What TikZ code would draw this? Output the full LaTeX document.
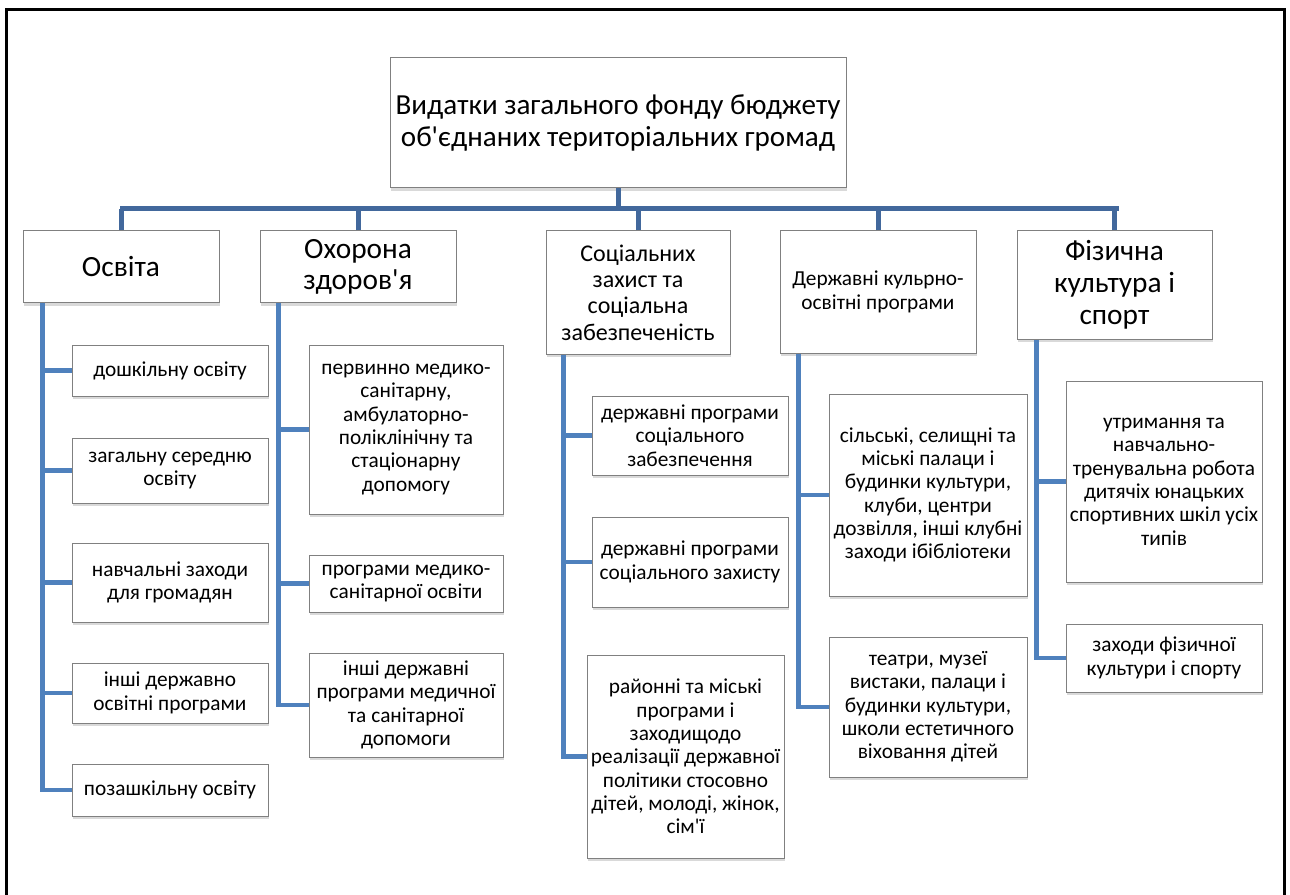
\documentclass[tikz,border=0pt]{standalone}
\usepackage{fontspec}
\setmainfont{Carlito}
\usetikzlibrary{shadows}
\definecolor{busblue}{RGB}{66,104,156}
\definecolor{trunkblue}{RGB}{79,129,189}
\definecolor{boxgray}{RGB}{128,128,128}
\newcommand{\apos}{\textquotesingle{}}
\begin{document}
\begin{tikzpicture}[x=0.75pt, y=-0.75pt,
    box/.style={draw=boxgray, line width=0.75pt, fill=white, align=center, inner sep=0pt,
        drop shadow={shadow xshift=0.75pt, shadow yshift=-2.25pt, fill=black!25, opacity=0.6}},
    subbox/.style={box, minimum width=147pt, font=\fontsize{16}{17.5}\selectfont},
    bus/.style={busblue, line width=3.75pt},
    trunk/.style={trunkblue, line width=3.5pt}]
    \useasboundingbox (0,0) rectangle (1290,895);
    % frame
    \coordinate (FL) at (6,895);
    \coordinate (FTL) at (6,10);
    \coordinate (FTR) at (1284,10);
    \coordinate (FR) at (1284,895);
    \draw[line width=2.25pt] (FL) -- (FTL) -- (FTR) -- (FR);

    % top level
    \node[box, minimum width=342pt, minimum height=97.5pt, font=\fontsize{21.8}{24}\selectfont] (root) at (618,123)
        {Видатки загального фонду бюджету\\об\apos єднаних територіальних громад};

    \node[box, minimum width=147pt, minimum height=54pt, font=\fontsize{22}{23.8}\selectfont] (osv) at (121,267) {Освіта};
    \node[box, minimum width=147pt, minimum height=54pt, font=\fontsize{22}{23.8}\selectfont] (ohor) at (358,267) {Охорона\\здоров\apos я};
    \node[box, minimum width=138pt, minimum height=92.25pt, font=\fontsize{18}{19.7}\selectfont] (soc) at (638,292.5)
        {Соціальних\\захист та\\соціальна\\забезпеченість};
    \node[box, minimum width=147pt, minimum height=91.5pt, font=\fontsize{16}{17.5}\selectfont] (derzh) at (878,292)
        {Державні кульрно-\\освітні програми};
    \node[box, minimum width=146.25pt, minimum height=81pt, font=\fontsize{22}{23.8}\selectfont] (fiz) at (1114.5,285)
        {Фізична\\культура і\\спорт};

    % education
    \node[subbox, minimum height=38.25pt] (d1) at (170,370.5) {дошкільну освіту};
    \node[subbox, minimum height=48.75pt] (d2) at (170,470.5) {загальну середню\\освіту};
    \node[subbox, minimum height=59.25pt] (d3) at (170,582.5) {навчальні заходи\\для громадян};
    \node[subbox, minimum height=45pt] (d4) at (170,693) {інші державно\\освітні програми};
    \node[subbox, minimum height=39pt] (d5) at (170,790) {позашкільну освіту};

    % health
    \node[subbox, minimum width=145.5pt, minimum height=126.75pt] (h1) at (406,429.5)
        {первинно медико-\\санітарну,\\амбулаторно-\\поліклінічну та\\стаціонарну\\допомогу};
    \node[subbox, minimum width=145.5pt, minimum height=42.75pt] (h2) at (406,583.5) {програми медико-\\санітарної освіти};
    \node[subbox, minimum width=145.5pt, minimum height=78pt] (h3) at (406,705)
        {інші державні\\програми медичної\\та санітарної\\допомоги};

    % social
    \node[subbox, minimum height=59.25pt] (s1) at (690,435.5) {державні програми\\соціального\\забезпечення};
    \node[subbox, minimum height=67.5pt] (s2) at (690,562) {державні програми\\соціального захисту};
    \node[subbox, minimum width=147.75pt, minimum height=152.25pt] (s3) at (685.5,756.5)
        {районні та міські\\програми і\\заходищодо\\реалізації державної\\політики стосовно\\дітей, молоді, жінок,\\сім\apos ї};

    % culture
    \node[subbox, minimum width=148.5pt, minimum height=151.5pt] (k1) at (928,495)
        {сільські, селищні та\\міські палаци і\\будинки культури,\\клуби, центри\\дозвілля, інші клубні\\заходи ібібліотеки};
    \node[subbox, minimum width=148.5pt, minimum height=105pt] (k2) at (928,707)
        {театри, музеї\\вистаки, палаци і\\будинки культури,\\школи естетичного\\віховання дітей};

    % sport
    \node[subbox, minimum height=150.75pt] (f1) at (1164,481.5)
        {утримання та\\навчально-\\тренувальна робота\\дитячіх юнацьких\\спортивних шкіл усіх\\типів};
    \node[subbox, minimum height=51pt] (f2) at (1164,658) {заходи фізичної\\культури і спорту};

    % connectors
    \coordinate (busL) at (122,209);
    \coordinate (busR) at (1116,209);
    \draw[bus] (root.south) -- (root.south |- busL);
    \draw[bus, line cap=rect] (busL) -- (busR);
    \foreach \n in {osv, ohor, soc, derzh, fiz}
        \draw[bus] (\n.north) -- (\n.north |- busL);

    \foreach \n in {d1, d2, d3, d4, d5}
        \draw[trunk] ([xshift=15pt]osv.south west) |- (\n.west);
    \foreach \n in {h1, h2, h3}
        \draw[trunk] ([xshift=14.25pt]ohor.south west) |- (\n.west);
    \foreach \n in {s1, s2, s3}
        \draw[trunk] ([xshift=13.5pt]soc.south west) |- (\n.west);
    \foreach \n in {k1, k2}
        \draw[trunk] ([xshift=14.25pt]derzh.south west) |- (\n.west);
    \foreach \n in {f1, f2}
        \draw[trunk] ([xshift=15pt]fiz.south west) |- (\n.west);
\end{tikzpicture}
\end{document}
